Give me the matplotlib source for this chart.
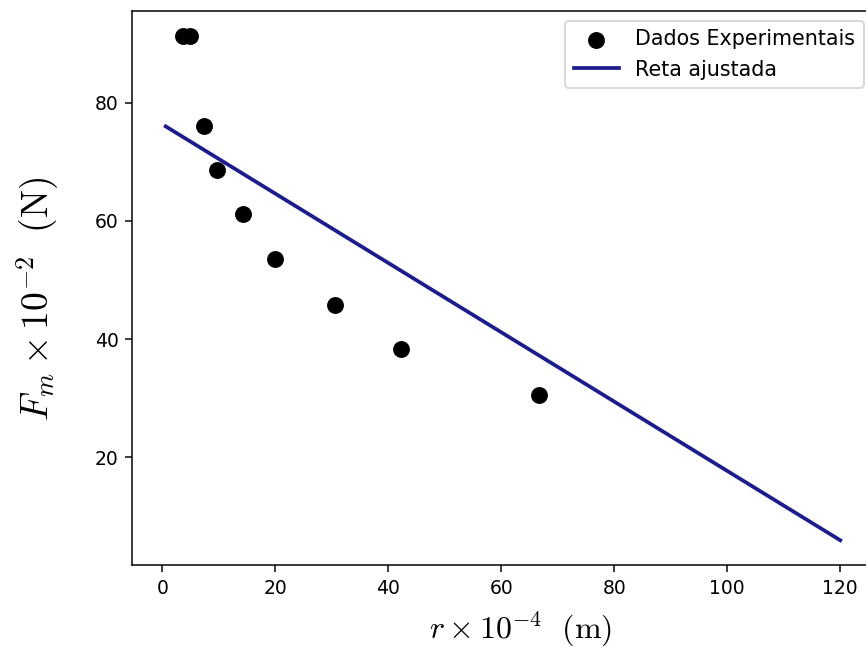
import matplotlib
matplotlib.use('Agg')
import matplotlib.pyplot as plt

# pontos
r_exp = [3.7, 4.9, 7.3, 9.6, 14.2, 20.0, 30.6, 42.2, 66.6]
F_exp = [91.3, 91.3, 76.0, 68.7, 61.1, 53.5, 45.8, 38.3, 30.6]

# reta ajustada (extremos)
r_fit = [0.6, 120.0]
F_fit = [76.0, 6.0]

plt.rcParams['mathtext.fontset'] = 'cm'

fig = plt.figure(figsize=(866 / 135, 652 / 135), dpi=135)
# a figura original esta cortada na direita
ax = fig.add_axes([0.1524, 0.1327, 0.8568, 0.8509])

ax.scatter(r_exp, F_exp, color='black', s=64, label='Dados Experimentais', zorder=3)
ax.plot(r_fit, F_fit, color='#1c1c8c', lw=2, label='Reta ajustada')

ax.set_xlabel(r'$r \times 10^{-4}\ \ \mathrm{(m)}$', fontsize=17, labelpad=6)
ax.set_ylabel(r'$F_m \times 10^{-2}\ \ \mathrm{(N)}$', fontsize=20, labelpad=18)
ax.xaxis.label.set_x(0.523)
ax.yaxis.label.set_y(0.4815)
ax.legend(loc='upper right', fontsize=11, handlelength=2.2)

fig.savefig('out.png', dpi=135)
